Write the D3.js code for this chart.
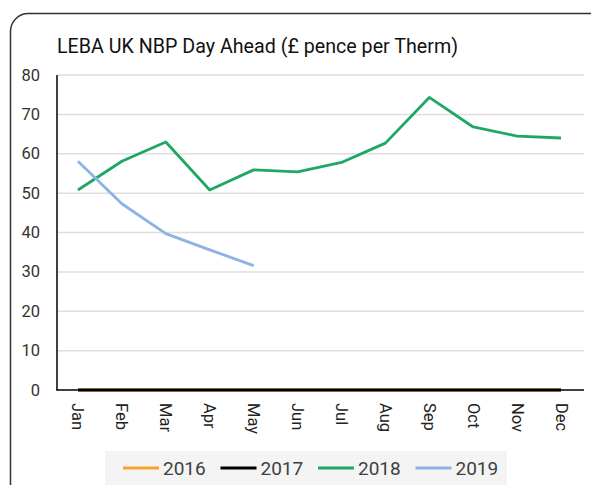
<!DOCTYPE html>
<html>
<head>
<meta charset="utf-8">
<script src="https://cdn.jsdelivr.net/npm/d3@7"></script>
<style>
  html, body { margin: 0; padding: 0; background: #fff; }
  svg { display: block; }
</style>
</head>
<body>
<div id="chart"></div>
<script>
const months = ["Jan", "Feb", "Mar", "Apr", "May", "Jun", "Jul", "Aug", "Sep", "Oct", "Nov", "Dec"];
const yTicks = [0, 10, 20, 30, 40, 50, 60, 70, 80];
const years = ["2016", "2017", "2018", "2019"];
const v2016 = [0, 0, 0, 0, 0, 0, 0, 0, 0, 0, 0, 0];
const v2017 = [0, 0, 0, 0, 0, 0, 0, 0, 0, 0, 0, 0];
const v2018 = [50.8, 58.1, 63.0, 50.8, 55.9, 55.4, 57.8, 62.7, 74.3, 66.8, 64.5, 64.0];
const v2019 = [58.1, 47.3, 39.7, 35.6, 31.6];
const title = "LEBA UK NBP Day Ahead (£ pence per Therm)";

const colors = { "2016": "#f5a52c", "2017": "#000000", "2018": "#1fa863", "2019": "#8cb3e6" };
const seriesList = [
  { key: "2016", values: v2016 },
  { key: "2017", values: v2017 },
  { key: "2018", values: v2018 },
  { key: "2019", values: v2019 }
];

const W = 591, H = 485;
const svg = d3.select("#chart").append("svg").attr("width", W).attr("height", H);

// frame (rounded box, clipped by the window on right and bottom)
svg.append("rect")
  .attr("x", 10.5).attr("y", 13.5).attr("width", 600).attr("height", 500)
  .attr("rx", 18).attr("fill", "#fff")
  .attr("stroke", "#333").attr("stroke-width", 1.5);

// title
svg.append("text")
  .attr("x", 57).attr("y", 53)
  .attr("font-family", "Roboto, sans-serif").attr("font-size", 20.5)
  .attr("fill", "#111")
  .attr("textLength", 401).attr("lengthAdjust", "spacingAndGlyphs")
  .text(title);

const x = d3.scalePoint().domain(months).range([56, 583]).padding(0.5);
const y = d3.scaleLinear().domain([0, 80]).range([390, 75]);

// gridlines
svg.append("g").selectAll("line").data(yTicks.filter(d => d > 0)).join("line")
  .attr("x1", 57).attr("x2", 584)
  .attr("y1", d => y(d)).attr("y2", d => y(d))
  .attr("stroke", "#dedede").attr("stroke-width", 1.5);

// y tick labels
svg.append("g").selectAll("text").data(yTicks).join("text")
  .attr("x", 40).attr("y", d => y(d))
  .attr("text-anchor", "end").attr("dominant-baseline", "central")
  .attr("font-family", "Roboto, sans-serif").attr("font-size", 16.5)
  .attr("fill", "#333")
  .text(d => d);

// axes lines
svg.append("line").attr("x1", 57).attr("x2", 57).attr("y1", 75).attr("y2", 390.5)
  .attr("stroke", "#000").attr("stroke-width", 1.5);
svg.append("line").attr("x1", 56.5).attr("x2", 584).attr("y1", 390).attr("y2", 390)
  .attr("stroke", "#000").attr("stroke-width", 1.5);

// month labels (rotated)
svg.append("g").selectAll("text").data(months).join("text")
  .attr("transform", d => `translate(${x(d)},403) rotate(90)`)
  .attr("text-anchor", "start").attr("dominant-baseline", "central")
  .attr("font-family", "Roboto, sans-serif").attr("font-size", 16.5)
  .attr("fill", "#222")
  .text(d => d);

// series lines
const line = d3.line().x((d, i) => x(months[i])).y(d => y(d));
svg.append("g").selectAll("path").data(seriesList).join("path")
  .attr("d", d => line(d.values))
  .attr("fill", "none")
  .attr("stroke", d => colors[d.key])
  .attr("stroke-width", 2.8)
  .attr("stroke-linejoin", "round");

// legend
svg.append("rect").attr("x", 105).attr("y", 451).attr("width", 402).attr("height", 40)
  .attr("fill", "#f4f4f4");
const lg = svg.append("g").selectAll("g").data(years).join("g")
  .attr("transform", (d, i) => `translate(${123 + i * 97.5},468)`);
lg.append("line").attr("x1", 0).attr("x2", 36).attr("y1", 0).attr("y2", 0)
  .attr("stroke", d => colors[d]).attr("stroke-width", 2.8);
lg.append("text").attr("x", 40).attr("y", 0)
  .attr("dominant-baseline", "central")
  .attr("font-family", "Roboto, sans-serif").attr("font-size", 19)
  .attr("fill", "#404040")
  .text(d => d);
</script>
</body>
</html>
